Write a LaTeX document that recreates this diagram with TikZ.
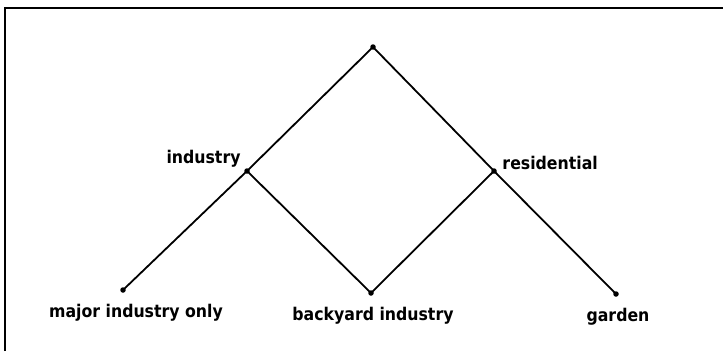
\documentclass[tikz,border=0pt]{standalone}
\usepackage{fontspec}
\newfontfamily\treefont{DejaVu Sans Condensed}
\begin{document}
\begin{tikzpicture}[x=1pt, y=-1pt, line width=1.8pt,
      font=\treefont\bfseries\fontsize{17.5}{19}\selectfont,
      pt/.style={circle, fill=black, inner sep=0pt, minimum size=5.5pt},
      tag/.style={inner sep=1pt, label distance=0pt}]
    \useasboundingbox (0,0) rectangle (723,351);
    \draw[line width=2pt] (5,351) -- (5,8) -- (723,8);
    \node[pt, label={[tag, xshift=-2pt, yshift=-1pt]above left:industry}] (ind) at (247,171) {};
    \node[pt] (top) at (373,47) {};
    \node[pt, label={[tag, xshift=4pt, yshift=-3pt]above right:residential}] (res) at (494,171) {};
    \node[pt, label={[tag, xshift=13pt, yshift=-9pt]below:major industry only}] (maj) at (123,290) {};
    \node[pt, label={[tag, xshift=2pt, yshift=-9pt]below:backyard industry}] (back) at (371,293) {};
    \node[pt, label={[tag, xshift=2pt, yshift=-9pt]below:garden}] (gar) at (616,294) {};
    \draw (top.center) -- (ind.center);
    \draw (top.center) -- (res.center);
    \draw (ind.center) -- (maj.center);
    \draw (ind.center) -- (back.center);
    \draw (res.center) -- (back.center);
    \draw (res.center) -- (gar.center);
  \end{tikzpicture}
\end{document}
